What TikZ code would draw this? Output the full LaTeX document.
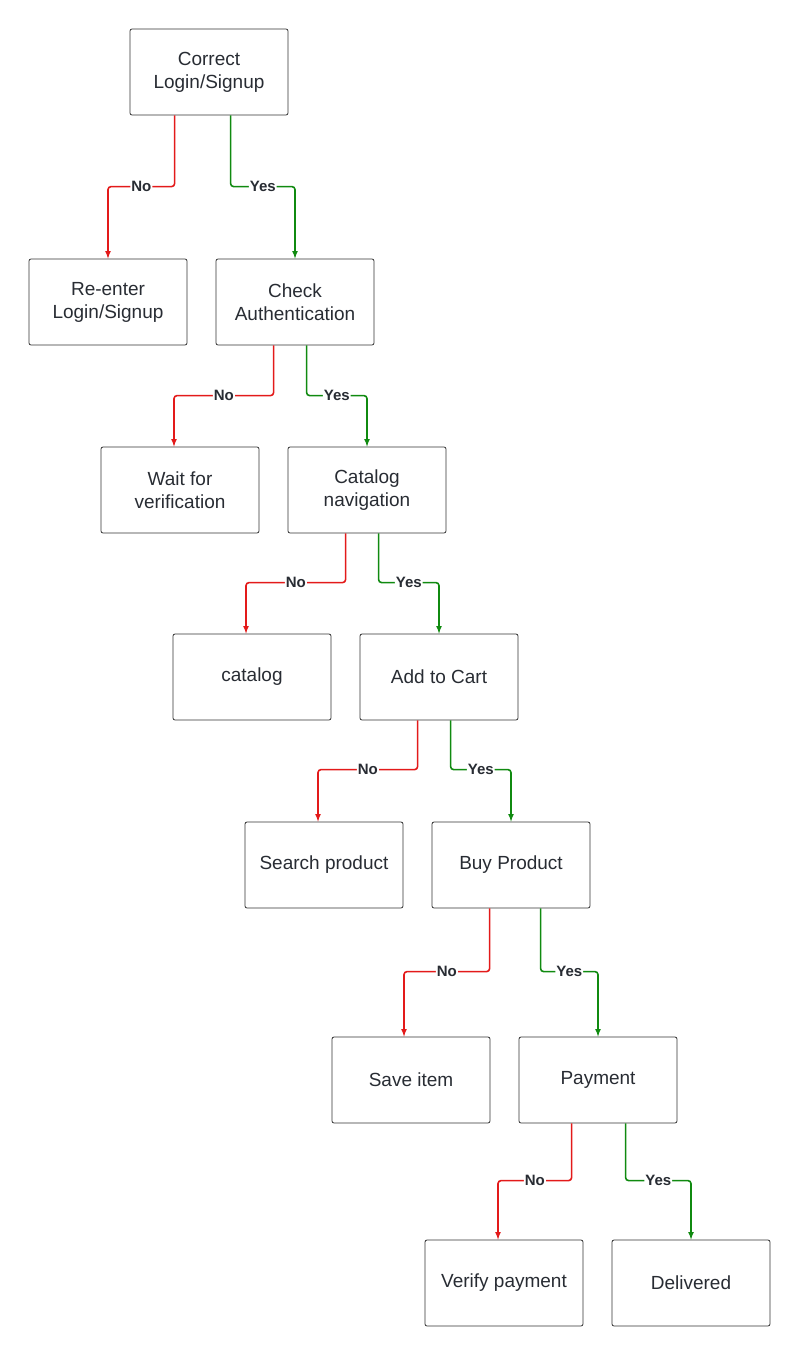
\documentclass[tikz,border=0pt]{standalone}
\usepackage{fontspec}
\setmainfont{Liberation Sans}
\usetikzlibrary{arrows,calc,positioning}
\definecolor{nored}{HTML}{E31A1A}
\definecolor{yesgreen}{HTML}{108A10}
\definecolor{txt}{HTML}{282C33}
\tikzset{%
	stepbox/.style = {draw=black!80, line width=0.8pt, rectangle, rounded corners=2pt, minimum width=158pt, minimum height=86pt, align=center, text=txt, font=\fontsize{19}{23}\selectfont},
	noarr/.style   = {nored, line width=1.6pt, rounded corners=3pt, -latex},
	yesarr/.style  = {yesgreen, line width=1.6pt, rounded corners=3pt, -latex},
	lbl/.style     = {fill=white, inner sep=1pt, text=txt, font=\fontsize{15}{17}\selectfont\bfseries},
}
\begin{document}
\begin{tikzpicture}[x=1pt,y=-1pt]
		\useasboundingbox (0,0) rectangle (800,1355);
		% boxes
		\node[stepbox] (login)   at (209,72)   {Correct\\Login/Signup};
		\node[stepbox] (reenter) at (108,302)  {Re-enter\\Login/Signup};
		\node[stepbox] (auth)    at (295,302)  {Check\\Authentication};
		\node[stepbox] (wait)    at (180,490)  {Wait for\\verification};
		\node[stepbox] (catnav)  at (367,490)  {Catalog\\navigation};
		\node[stepbox] (catalog) at (252,677)  {catalog};
		\node[stepbox] (cart)    at (439,677)  {Add to Cart};
		\node[stepbox] (search)  at (324,865)  {Search product};
		\node[stepbox] (buy)     at (511,865)  {Buy Product};
		\node[stepbox] (save)    at (411,1080) {Save item};
		\node[stepbox] (pay)     at (598,1080) {Payment};
		\node[stepbox] (verify)  at (504,1283) {Verify payment};
		\node[stepbox] (deliv)   at (691,1283) {Delivered};
		
		% connectors
		\draw[noarr]  ([xshift=45pt]login.south west)  |- ($(reenter.north)+(0,-72)$) node[lbl,pos=0.75] {No}  -- (reenter.north);
		\draw[yesarr] ([xshift=101pt]login.south west) |- ($(auth.north)+(0,-72)$)    node[lbl,pos=0.75] {Yes} -- (auth.north);
		
		\draw[noarr]  ([xshift=58pt]auth.south west) |- ($(wait.north)+(-6,-51)$)  node[lbl,pos=0.75] {No}  -- ([xshift=-6pt]wait.north);
		\draw[yesarr] ([xshift=91pt]auth.south west) |- ($(catnav.north)+(0,-51)$) node[lbl,pos=0.75] {Yes} -- (catnav.north);
		
		\draw[noarr]  ([xshift=58pt]catnav.south west) |- ($(catalog.north)+(-6,-51)$) node[lbl,pos=0.75] {No}  -- ([xshift=-6pt]catalog.north);
		\draw[yesarr] ([xshift=91pt]catnav.south west) |- ($(cart.north)+(0,-51)$)     node[lbl,pos=0.75] {Yes} -- (cart.north);
		
		\draw[noarr]  ([xshift=58pt]cart.south west) |- ($(search.north)+(-6,-52)$) node[lbl,pos=0.75] {No}  -- ([xshift=-6pt]search.north);
		\draw[yesarr] ([xshift=91pt]cart.south west) |- ($(buy.north)+(0,-52)$)     node[lbl,pos=0.75] {Yes} -- (buy.north);
		
		\draw[noarr]  ([xshift=58pt]buy.south west)  |- ($(save.north)+(-7,-65)$) node[lbl,pos=0.75] {No}  -- ([xshift=-7pt]save.north);
		\draw[yesarr] ([xshift=109pt]buy.south west) |- ($(pay.north)+(0,-65)$)   node[lbl,pos=0.75] {Yes} -- (pay.north);
		
		\draw[noarr]  ([xshift=53pt]pay.south west)  |- ($(verify.north)+(-6,-59)$) node[lbl,pos=0.75] {No}  -- ([xshift=-6pt]verify.north);
		\draw[yesarr] ([xshift=107pt]pay.south west) |- ($(deliv.north)+(0,-59)$)   node[lbl,pos=0.75] {Yes} -- (deliv.north);
\end{tikzpicture}
\end{document}
